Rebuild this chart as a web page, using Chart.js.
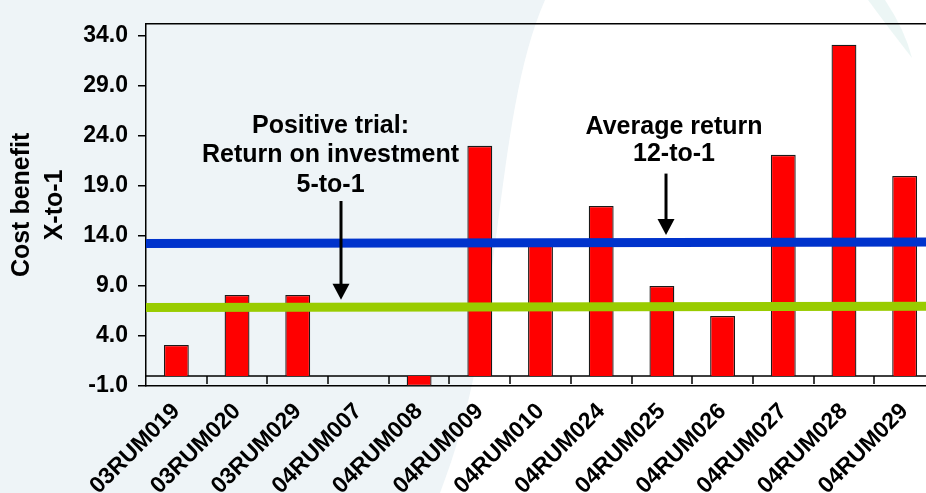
<!DOCTYPE html>
<html><head><meta charset="utf-8">
<script src="https://cdn.jsdelivr.net/npm/chart.js@4.4.1/dist/chart.umd.min.js"></script>
<style>
html,body{margin:0;padding:0;overflow:hidden;background:#fff;width:926px;height:493px}
#wrap{position:relative;width:940px;height:493px}
</style></head>
<body><div id="wrap"><canvas id="c" width="940" height="493"></canvas></div>
<script>
const categories = ['03RUM019','03RUM020','03RUM029','04RUM007','04RUM008','04RUM009','04RUM010','04RUM024','04RUM025','04RUM026','04RUM027','04RUM028','04RUM029'];
const costBenefit = [3.1, 8.1, 8.1, 0, -1.0, 23.0, 13.2, 17.0, 9.0, 6.0, 22.1, 33.1, 20.0];
const yTickValues = [-1, 4, 9, 14, 19, 24, 29, 34];
const lineSpan = [0, 1];
const averageReturn = [13.23, 13.4];
const positiveTrial = [6.84, 6.97];
const yAxisTitle = ['Cost benefit', 'X-to-1'];
const noteTrialLines = ['Positive trial:', 'Return on investment', '5-to-1'];
const noteTrialX = 2.54;
const noteTrialY = [24.94, 22.04, 19.1];
const noteAvgLines = ['Average return', '12-to-1'];
const noteAvgX = 8.2;
const noteAvgY = [24.9, 22.17];
const arrowX = [2.713, 8.068];
const arrowFrom = [17.49, 20.23];
const arrowTo = [7.61, 14.1];

const FONT = "Arial, 'Liberation Sans', sans-serif";

const bgPlugin = {
  id: 'bg',
  beforeDraw(chart) {
    const ctx = chart.ctx;
    ctx.save();
    ctx.fillStyle = '#ffffff';
    ctx.fillRect(0, 0, chart.width, chart.height);
    ctx.fillStyle = '#EEF4F7';
    ctx.beginPath();
    ctx.moveTo(0, 0);
    ctx.lineTo(545, 0);
    ctx.bezierCurveTo(492, 120, 505, 330, 440, 493);
    ctx.lineTo(0, 493);
    ctx.closePath();
    ctx.fill();
    ctx.fillStyle = 'rgba(200,230,225,0.35)';
    ctx.beginPath();
    ctx.moveTo(868, 0);
    ctx.lineTo(885, 0);
    ctx.quadraticCurveTo(905, 30, 912, 58);
    ctx.quadraticCurveTo(890, 30, 868, 0);
    ctx.fill();
    ctx.restore();
  }
};

const axisPlugin = {
  id: 'axisExtras',
  beforeDatasetsDraw(chart) {
    const ctx = chart.ctx, xs = chart.scales.x, ys = chart.scales.y, a = chart.chartArea;
    const y0 = ys.getPixelForValue(0);
    ctx.save();
    ctx.strokeStyle = '#000';
    ctx.lineWidth = 1.5;
    ctx.beginPath();
    ctx.moveTo(a.left, y0); ctx.lineTo(a.right, y0);
    ctx.moveTo(a.left, a.top); ctx.lineTo(a.right, a.top);
    for (let i = 1; i < categories.length; i++) {
      const px = Math.round(xs.getPixelForValue(i - 0.5));
      ctx.moveTo(px, y0); ctx.lineTo(px, y0 + 8);
    }
    ctx.stroke();
    ctx.restore();
  },
  afterDatasetsDraw(chart) {
    const ctx = chart.ctx, xs = chart.scales.x, ys = chart.scales.y;
    ctx.save();
    ctx.strokeStyle = '#000';
    ctx.fillStyle = '#000';
    arrowX.forEach((ax, i) => {
      const px = xs.getPixelForValue(ax);
      const yTop = ys.getPixelForValue(arrowFrom[i]);
      const yTip = ys.getPixelForValue(arrowTo[i]);
      const head = 16;
      ctx.lineWidth = 3;
      ctx.beginPath();
      ctx.moveTo(px, yTop); ctx.lineTo(px, yTip - head + 1);
      ctx.stroke();
      ctx.beginPath();
      ctx.moveTo(px - 8.5, yTip - head);
      ctx.lineTo(px + 8.5, yTip - head);
      ctx.lineTo(px, yTip);
      ctx.closePath();
      ctx.fill();
    });
    ctx.font = "bold 25px " + FONT;
    ctx.textAlign = 'center';
    ctx.textBaseline = 'middle';
    noteTrialLines.forEach((t, i) => {
      ctx.fillText(t, xs.getPixelForValue(noteTrialX), ys.getPixelForValue(noteTrialY[i]));
    });
    noteAvgLines.forEach((t, i) => {
      ctx.fillText(t, xs.getPixelForValue(noteAvgX), ys.getPixelForValue(noteAvgY[i]));
    });
    ctx.restore();
  }
};

const tickFont = {family: FONT, size: 23, weight: 'bold'};

new Chart(document.getElementById('c'), {
  data: {
    labels: categories,
    datasets: [
      {type: 'line', label: 'Average return', xAxisID: 'xl', yAxisID: 'y',
       data: lineSpan.map((x, i) => ({x: x, y: averageReturn[i]})),
       borderColor: '#0033CC', borderWidth: 9, pointRadius: 0, order: 1, clip: false},
      {type: 'line', label: 'Positive trial', xAxisID: 'xl', yAxisID: 'y',
       data: lineSpan.map((x, i) => ({x: x, y: positiveTrial[i]})),
       borderColor: '#99CC00', borderWidth: 9, pointRadius: 0, order: 1, clip: false},
      {type: 'bar', label: 'Cost benefit', xAxisID: 'x', yAxisID: 'y',
       data: costBenefit, backgroundColor: '#FF0000', borderColor: '#1a1a1a',
       borderWidth: 1.3, barPercentage: 0.41, categoryPercentage: 1, grouped: false, order: 2}
    ]
  },
  options: {
    responsive: false,
    animation: false,
    events: [],
    layout: {padding: {top: 12, right: 5, left: 0, bottom: 0}},
    plugins: {legend: {display: false}, tooltip: {enabled: false}},
    scales: {
      x: {
        type: 'category', offset: true,
        grid: {display: false},
        border: {display: true, color: '#000', width: 1.5},
        ticks: {color: '#000', font: tickFont, minRotation: 45, maxRotation: 45, padding: 4, autoSkip: false},
        afterFit: s => { s.height = 107; }
      },
      xl: {type: 'linear', display: false, min: 0, max: 1},
      y: {
        type: 'linear', min: -1, max: 35.2,
        afterBuildTicks: s => { s.ticks = yTickValues.map(v => ({value: v})); },
        ticks: {color: '#000', font: tickFont, padding: 10, callback: v => Number(v).toFixed(1)},
        grid: {drawOnChartArea: false, drawTicks: true, tickLength: 8, color: '#000', lineWidth: 1.5},
        border: {display: true, color: '#000', width: 1.5},
        title: {display: true, text: yAxisTitle, color: '#000',
                font: {family: FONT, size: 25, weight: 'bold', lineHeight: 1.3},
                padding: {top: 6, bottom: 0}},
        afterFit: s => { s.width = 146; }
      }
    }
  },
  plugins: [bgPlugin, axisPlugin]
});
</script>
</body></html>
